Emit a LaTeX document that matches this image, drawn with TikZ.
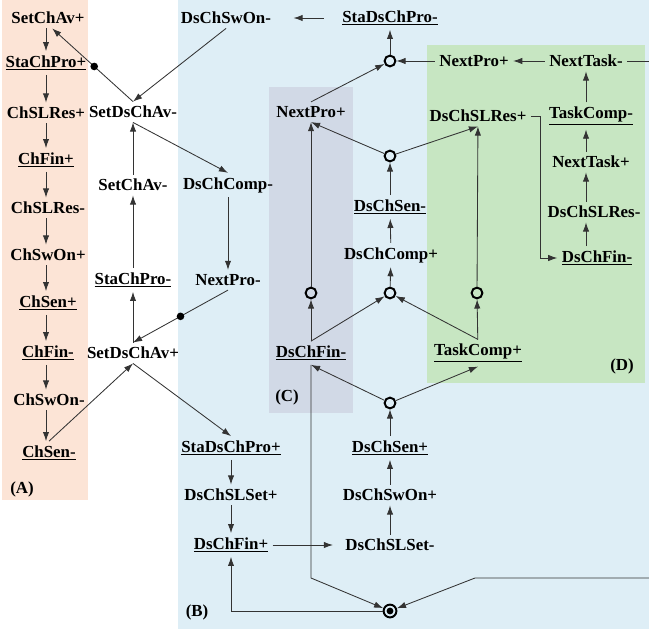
\documentclass[tikz,border=0pt]{standalone}
\usepackage{fontspec}
\setmainfont{Liberation Serif}
\usetikzlibrary{arrows.meta}

\definecolor{peach}{HTML}{FCE4D6}
\definecolor{skyb}{HTML}{DEEEF6}
\definecolor{greyc}{HTML}{D1D9E6}
\definecolor{greend}{HTML}{C7E6C2}

\tikzset{
  ev/.style={font=\bfseries\fontsize{12}{14}\selectfont, inner sep=3pt},
  place/.style={circle, draw=black, line width=1.4pt, minimum size=0.27cm, inner sep=0pt},
  final/.style={place, minimum size=0.32cm, path picture={\fill (path picture bounding box.center) circle (0.085cm);}},
  rd/.style={circle, fill=black, minimum size=0.19cm, inner sep=0pt},
  arc/.style={black!80, line width=0.6pt},
  tag/.style={font=\bfseries\fontsize{12}{14}\selectfont}
}

\begin{document}
\begin{tikzpicture}[x=0.025cm,y=-0.025cm,>={Latex[length=6.5pt,width=4.5pt]}]
 \useasboundingbox (0,0) rectangle (649,629);

 % draw the coloured regions
 \fill[peach] (2,0) rectangle (88,500);
 \fill[skyb] (178,0) rectangle (649,629);
 \fill[greyc] (269,87) rectangle (353,413);
 \fill[greend] (427,45) rectangle (645,383);

 \node[tag] (la) at (22,489) {(A)};
 \node[tag] (lb) at (197,612) {(B)};
 \node[tag] (lc) at (287,397) {(C)};
 \node[tag] (ld) at (622,366) {(D)};

 % channel events (A)
 \node[ev] (sca)  at (48,18)  {SetChAv+};
 \node[ev] (scp)  at (46,63)  {\underline{StaChPro+}};
 \node[ev] (clrp) at (46,113) {ChSLRes+};
 \node[ev] (cfp)  at (46,160) {\underline{ChFin+}};
 \node[ev] (clrm) at (48,208) {ChSLRes-};
 \node[ev] (cswp) at (48,255) {ChSwOn+};
 \node[ev] (csp)  at (48,303) {\underline{ChSen+}};
 \node[ev] (cfm)  at (48,353) {\underline{ChFin-}};
 \node[ev] (cswm) at (49,400) {ChSwOn-};
 \node[ev] (csm)  at (49,453) {\underline{ChSen-}};

 % set / reset of availability
 \node[ev] (sdm) at (133,112) {SetDsChAv-};
 \node[ev] (scm) at (133,185) {SetChAv-};
 \node[ev] (spm) at (133,280) {\underline{StaChPro-}};
 \node[ev] (sdp) at (133,353) {SetDsChAv+};

 % ds channel events (B)
 \node[ev] (dswm)  at (226,18)  {DsChSwOn-};
 \node[ev] (dcm)   at (228,185) {DsChComp-};
 \node[ev] (npm)   at (228,280) {NextPro-};
 \node[ev] (sdpp)  at (231,448) {\underline{StaDsChPro+}};
 \node[ev] (dslsp) at (231,495) {DsChSLSet+};
 \node[ev] (dfp)   at (231,545) {\underline{DsChFin+}};

 \node[ev] (sdpm)  at (390,18)  {\underline{StaDsChPro-}};
 \node[place] (o1) at (390,61)  {};
 \node[place] (o2) at (390,156) {};
 \node[ev] (dsm)   at (390,207) {\underline{DsChSen-}};
 \node[ev] (dcp)   at (391,255) {DsChComp+};
 \node[place] (o3) at (390,293) {};
 \node[place] (o4) at (390,403) {};
 \node[ev] (dsp)   at (390,448) {\underline{DsChSen+}};
 \node[ev] (dswp)  at (390,495) {DsChSwOn+};
 \node[ev] (dslsm) at (390,545) {DsChSLSet-};
 \node[final] (bull) at (390,611) {};

 % (C)
 \node[ev] (npc)   at (311,112) {NextPro+};
 \node[place] (oc) at (311,293) {};
 \node[ev] (dfc)   at (311,353) {\underline{DsChFin-}};

 % (D)
 \node[ev] (npd)   at (474,61)  {NextPro+};
 \node[ev] (dslrp) at (478,116) {DsChSLRes+};
 \node[place] (od) at (477,293) {};
 \node[ev] (tcp)   at (478,353) {\underline{TaskComp+}};
 \node[ev] (ntm)   at (586,61)  {NextTask-};
 \node[ev] (tcm)   at (591,116) {\underline{TaskComp-}};
 \node[ev] (ntp)   at (591,162) {NextTask+};
 \node[ev] (dslrm) at (594,212) {DsChSLRes-};
 \node[ev] (dfd)   at (597,258) {\underline{DsChFin-}};

 % loose ends at the border
 \coordinate (et) at (649,61);
 \coordinate (er) at (649,578);
 \coordinate (cr) at (475,578);

 % the chain of (A)
 \foreach \a/\b in {sca/scp, scp/clrp, clrp/cfp, cfp/clrm, clrm/cswp,
                    cswp/csp, csp/cfm, cfm/cswm, cswm/csm}
         \draw[arc,->] (\a.south -| scp) -- (\b.north -| scp);

 % upward chains
 \foreach \a/\b in {sdp/spm, spm/scm, scm/sdm,
                    dslsm/dswp, dswp/dsp, dsp/o4,
                    o3/dcp, dcp/dsm, dsm/o2, o1/sdpm,
                    dfc/oc, oc/npc, tcp/od, od/dslrp}
         \draw[arc,->] (\a) -- (\b);
 \foreach \a/\b in {dfd/dslrm, dslrm/ntp, ntp/tcm, tcm/ntm}
         \draw[arc,->] (\a.north -| ntm) -- (\b.south -| ntm);

 % downward chains
 \foreach \a/\b in {dcm/npm, sdpp/dslsp, dslsp/dfp}
         \draw[arc,->] (\a) -- (\b);

 % slanted arcs
 \draw[arc,->] (csm.north) -- (sdp.south);
 \draw[arc,->] (sdm.north) -- node[rd,pos=0.48] (d1) {} ([xshift=3pt]sca.south);
 \draw[arc,->] (dswm.south) -- (sdm.north);
 \draw[arc,->] (sdm.south) -- (dcm.north);
 \draw[arc,->] (npm.south) -- node[rd,pos=0.5] (d2) {} (sdp.north);
 \draw[arc,->] (sdp.south) -- (sdpp.north);
 \draw[arc,->] (o4) -- (dfc.south);
 \draw[arc,->] (o4) -- (tcp.south);
 \draw[arc,->] (dfc.north) -- (o3);
 \draw[arc,->] (tcp.north) -- (o3);
 \draw[arc,->] (o2) -- (npc.south);
 \draw[arc,->] (o2) -- (dslrp.south);
 \draw[arc,->] (npc.north) -- (o1);

 % horizontal arcs
 \draw[arc,->,shorten <=0.35cm,shorten >=0.45cm] (sdpm) -- (dswm);
 \draw[arc,->] (npd) -- (o1);
 \draw[arc,->] (ntm) -- (npd);
 \draw[arc] (ntm.east) -- (et);
 \draw[arc,->,shorten >=0.2cm] (dfp) -- (dslsm);
 \draw[arc,->] (dslrp.east) -- ++(10,0) |- (dfd.west);

 % arcs to and from the final place
 \draw[arc,->] (dfc.south) -- (dfc.south |- cr) -- (bull);
 \draw[arc,->] (er) -- (cr) -- (bull);
 \draw[arc,->] (bull.west) -| (dfp.south);
\end{tikzpicture}
\end{document}
